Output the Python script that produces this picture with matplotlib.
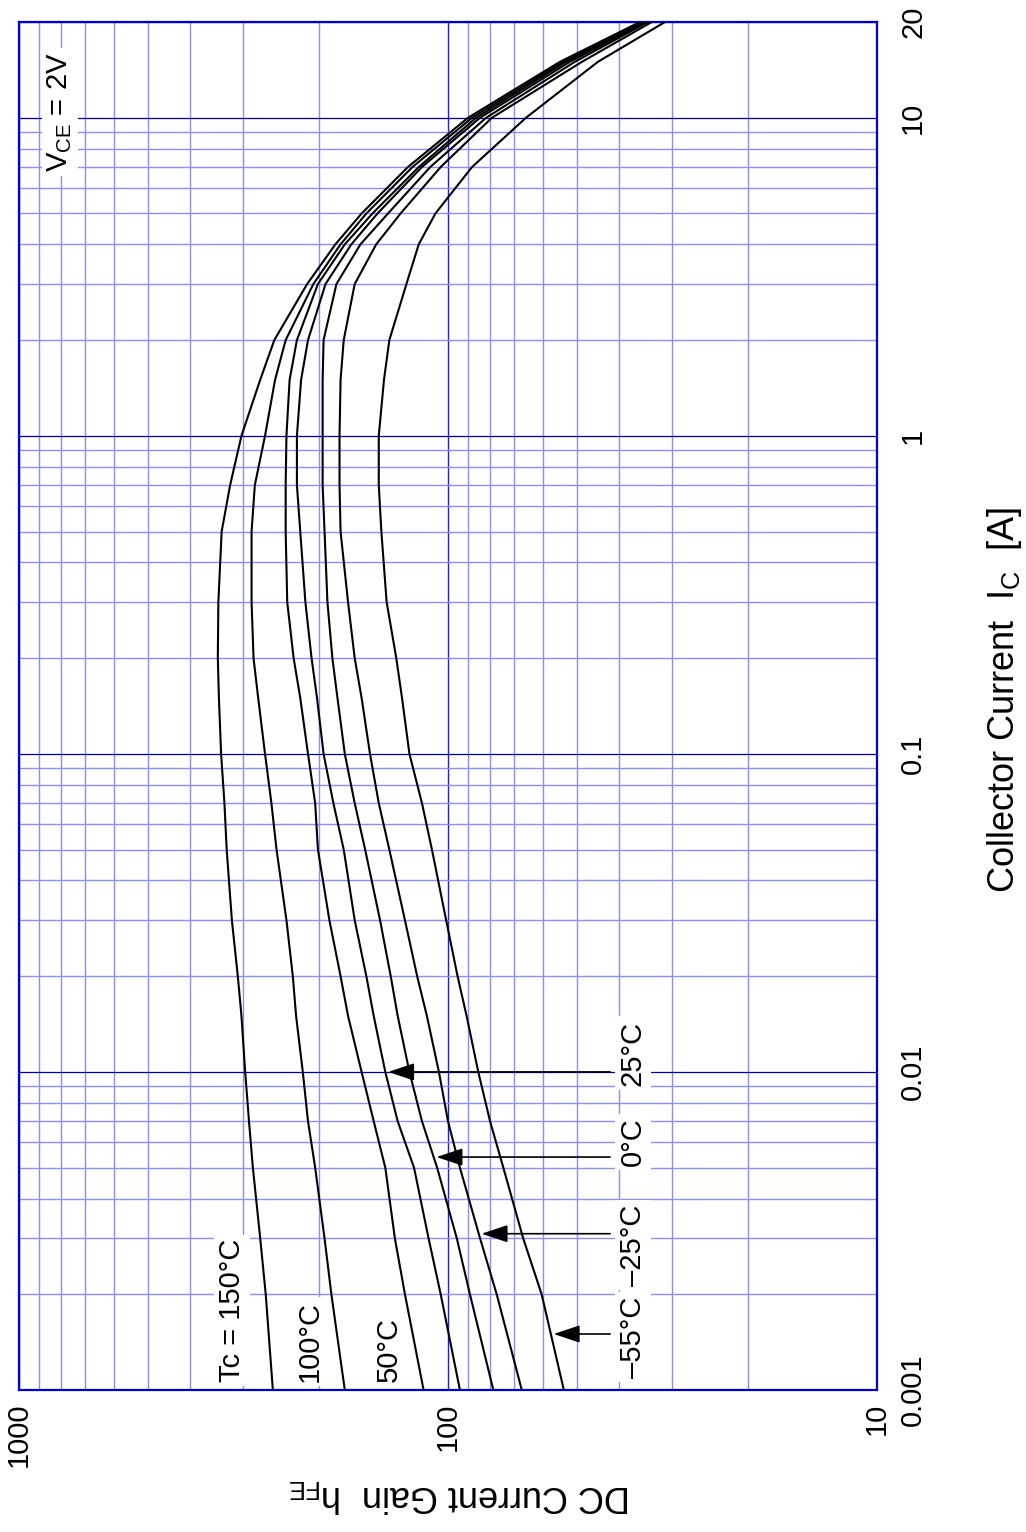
import numpy as np
import matplotlib
matplotlib.use("Agg")
import matplotlib.pyplot as plt
from matplotlib.ticker import LogLocator, NullFormatter, FixedLocator, FixedFormatter

plt.rcParams['font.family'] = ['Liberation Sans', 'DejaVu Sans']
plt.rcParams['mathtext.fontset'] = 'custom'
plt.rcParams['mathtext.rm'] = 'Liberation Sans'

# collector current Ic [A]
ic = [0.001, 0.002, 0.003, 0.005, 0.007, 0.01, 0.015, 0.02, 0.03, 0.05, 0.07,
      0.1, 0.15, 0.2, 0.3, 0.5, 0.7, 1, 1.5, 2, 3, 4, 5, 7, 10, 15, 20]

# hFE, one list per case temperature
hfe_150 = [256, 266, 274, 285, 291, 297, 303, 309, 319, 328, 332,
           338, 342, 344, 343, 337, 322, 303, 274, 254, 213, 183, 159, 124, 89.8, 54.8, 35.7]
hfe_100 = [174, 187, 194, 204, 212, 218, 226, 230, 238, 251, 258,
           267, 277, 284, 287, 287, 282, 267, 253, 239, 206, 178, 155, 121, 87.9, 53.9, 35.3]
hfe_50 = [114, 126, 133, 140, 149, 159, 171, 178, 189, 201, 204,
          212, 221, 229, 237, 239, 239, 238, 234, 225, 201, 174, 150, 117, 86.0, 53.1, 34.9]
hfe_25 = [93.8, 104, 111, 120, 131, 140, 149, 155, 165, 175, 185,
          195, 202, 208, 215, 221, 225, 225, 220, 212, 193, 168, 146, 115, 84.2, 52.0, 34.5]
hfe_0 = [78.4, 88.9, 95.4, 106, 115, 123, 131, 136, 144, 156, 165,
         174, 181, 186, 191, 194, 196, 196, 196, 195, 182, 160, 138, 110, 81.5, 50.6, 34.2]
hfe_m25 = [67.3, 77.0, 84.2, 93.8, 100, 105, 112, 118, 126, 137, 145,
           152, 159, 165, 171, 178, 179, 179, 178, 175, 165, 147, 129, 104, 79.0, 48.7, 33.5]
hfe_m55 = [53.7, 60.5, 66.8, 74.3, 79.8, 85.0, 90.5, 95.0, 101, 109, 115,
           123, 128, 132, 139, 143, 145, 145, 141, 137, 125, 117, 107, 87.9, 65.8, 44.7, 31.2]

curves = [hfe_150, hfe_100, hfe_50, hfe_25, hfe_0, hfe_m25, hfe_m55]

hfe_ticks = [1000, 100, 10]
hfe_labels = ['1000', '100', '10']
ic_ticks = [0.001, 0.01, 0.1, 1, 10, 20]
ic_labels = ['0.001', '0.01', '0.1', '1', '10', '20']

# arrow labels: text, curve, Ic where the arrow hits the curve
arrow_labels = ['25°C', '0°C', '\u201325°C', '\u201355°C']
arrow_curves = [hfe_25, hfe_0, hfe_m25, hfe_m55]
arrow_ic = [0.01, 0.0054, 0.0031, 0.0015]

fig = plt.figure(figsize=(10.26, 15.32), dpi=100)
# chart is drawn turned: Ic runs upwards, hFE runs right-to-left
ax = fig.add_axes([19 / 1026, (1532 - 1390) / 1532, 858 / 1026, 1368 / 1532])
ax.set_xscale('log')
ax.set_yscale('log')
ax.set_xlim(1000, 10)
ax.set_ylim(0.001, 20)

ax.xaxis.set_major_locator(FixedLocator(hfe_ticks))
ax.xaxis.set_major_formatter(FixedFormatter(hfe_labels))
ax.xaxis.set_minor_locator(LogLocator(base=10, subs=np.arange(2, 10), numticks=50))
ax.xaxis.set_minor_formatter(NullFormatter())
ax.yaxis.set_major_locator(FixedLocator(ic_ticks))
ax.yaxis.set_major_formatter(FixedFormatter(ic_labels))
ax.yaxis.set_minor_locator(LogLocator(base=10, subs=np.arange(2, 10), numticks=50))
ax.yaxis.set_minor_formatter(NullFormatter())

ax.xaxis.grid(True, which='minor', color='#8c8cff', lw=1.0)
ax.yaxis.grid(True, which='minor', color='#8c8cff', lw=1.0)
ax.xaxis.grid(True, which='major', color='#1a1aff', lw=1.0)
ax.yaxis.grid(True, which='major', color='#0000a0', lw=0.9)
ax.set_axisbelow(True)

ax.yaxis.tick_right()
ax.tick_params(which='both', length=0)
ax.tick_params(axis='x', labelsize=21, labelrotation=90, pad=9)
ax.tick_params(axis='y', labelsize=21, labelrotation=90, pad=16)
for lab in ax.get_yticklabels():
    lab.set_va('center')
for sp in ax.spines.values():
    sp.set_color('#0000cc')
    sp.set_linewidth(1.6)

for h in curves:
    ax.plot(h, ic, color='black', lw=1.5, zorder=3)

box = dict(facecolor='white', edgecolor='none', pad=3)
ax.text(0.0478, 0.934, r'V$_\mathregular{CE}$ = 2V', rotation=90, ha='center', va='center',
        fontsize=21, transform=ax.transAxes, bbox=box, zorder=4)

ax.text(0.2483, 0.0058, 'Tc = 150°C', rotation=90, ha='center', va='bottom',
        fontsize=21, transform=ax.transAxes, bbox=box, zorder=4)
ax.text(0.3392, 0.0058, '100°C', rotation=90, ha='center', va='bottom',
        fontsize=21, transform=ax.transAxes, bbox=box, zorder=4)
ax.text(0.4307, 0.0058, '50°C', rotation=90, ha='center', va='bottom',
        fontsize=21, transform=ax.transAxes, bbox=box, zorder=4)

label_y = [0.2463, 0.1813, 0.1060, 0.0387]
log_ic = np.log10(ic)
for txt, h, a_ic, ly in zip(arrow_labels, arrow_curves, arrow_ic, label_y):
    tip = 10 ** np.interp(np.log10(a_ic), log_ic, np.log10(h))
    ax.annotate('', xy=(tip * 0.985, a_ic), xytext=(0.689, a_ic),
                xycoords='data', textcoords=('axes fraction', 'data'),
                arrowprops=dict(arrowstyle='-|>,head_length=0.9,head_width=0.3',
                                mutation_scale=18, color='black', lw=1.2,
                                shrinkA=0, shrinkB=0), zorder=5)
    ax.text(0.7156, ly, txt, rotation=90, ha='center', va='center',
            fontsize=21, transform=ax.transAxes, bbox=box, zorder=4)

fig.text(1005 / 1026, 1 - 700 / 1532, r'Collector Current  I$_\mathregular{C}$  [A]',
         rotation=90, ha='center', va='center', fontsize=26)
fig.text(460 / 1026, 1 - 1497 / 1532, r'DC Current Gain  h$_\mathregular{FE}$',
         rotation=180, ha='center', va='center', fontsize=26)

fig.savefig('out.png', dpi=100)
